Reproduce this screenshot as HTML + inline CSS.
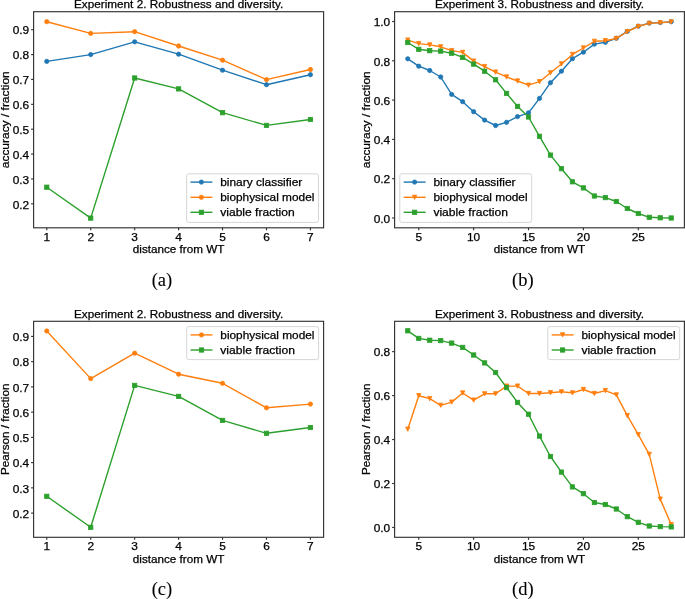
<!DOCTYPE html>
<html><head><meta charset="utf-8"><style>
html,body{margin:0;padding:0;background:#fff;}
body{width:685px;height:599px;overflow:hidden;}
svg{display:block;will-change:transform;}
text{font-family:"Liberation Sans", sans-serif;fill:#000;stroke:#000;stroke-width:0.25px;}
</style></head><body>
<svg width="685" height="599" viewBox="0 0 685 599">
<rect width="685" height="599" fill="#fff"/>
<polyline points="46.78,61.4 90.72,54.6 134.66,41.8 178.6,54.2 222.54,70.2 266.48,84.7 310.42,74.7" fill="none" stroke="#1f77b4" stroke-width="1.4" stroke-linejoin="round"/>
<circle cx="46.78" cy="61.4" r="2.15" fill="#1f77b4" stroke="#1f77b4" stroke-width="0.8" stroke-miterlimit="10"/>
<circle cx="90.72" cy="54.6" r="2.15" fill="#1f77b4" stroke="#1f77b4" stroke-width="0.8" stroke-miterlimit="10"/>
<circle cx="134.66" cy="41.8" r="2.15" fill="#1f77b4" stroke="#1f77b4" stroke-width="0.8" stroke-miterlimit="10"/>
<circle cx="178.6" cy="54.2" r="2.15" fill="#1f77b4" stroke="#1f77b4" stroke-width="0.8" stroke-miterlimit="10"/>
<circle cx="222.54" cy="70.2" r="2.15" fill="#1f77b4" stroke="#1f77b4" stroke-width="0.8" stroke-miterlimit="10"/>
<circle cx="266.48" cy="84.7" r="2.15" fill="#1f77b4" stroke="#1f77b4" stroke-width="0.8" stroke-miterlimit="10"/>
<circle cx="310.42" cy="74.7" r="2.15" fill="#1f77b4" stroke="#1f77b4" stroke-width="0.8" stroke-miterlimit="10"/>
<polyline points="46.78,21.7 90.72,33.4 134.66,31.7 178.6,46 222.54,60.2 266.48,79.6 310.42,69.5" fill="none" stroke="#ff7f0e" stroke-width="1.4" stroke-linejoin="round"/>
<circle cx="46.78" cy="21.7" r="2.15" fill="#ff7f0e" stroke="#ff7f0e" stroke-width="0.8" stroke-miterlimit="10"/>
<circle cx="90.72" cy="33.4" r="2.15" fill="#ff7f0e" stroke="#ff7f0e" stroke-width="0.8" stroke-miterlimit="10"/>
<circle cx="134.66" cy="31.7" r="2.15" fill="#ff7f0e" stroke="#ff7f0e" stroke-width="0.8" stroke-miterlimit="10"/>
<circle cx="178.6" cy="46" r="2.15" fill="#ff7f0e" stroke="#ff7f0e" stroke-width="0.8" stroke-miterlimit="10"/>
<circle cx="222.54" cy="60.2" r="2.15" fill="#ff7f0e" stroke="#ff7f0e" stroke-width="0.8" stroke-miterlimit="10"/>
<circle cx="266.48" cy="79.6" r="2.15" fill="#ff7f0e" stroke="#ff7f0e" stroke-width="0.8" stroke-miterlimit="10"/>
<circle cx="310.42" cy="69.5" r="2.15" fill="#ff7f0e" stroke="#ff7f0e" stroke-width="0.8" stroke-miterlimit="10"/>
<polyline points="46.78,187.2 90.72,218.1 134.66,78 178.6,88.9 222.54,112.7 266.48,125.4 310.42,119.5" fill="none" stroke="#2ca02c" stroke-width="1.4" stroke-linejoin="round"/>
<rect x="44.63" y="185.05" width="4.3" height="4.3" fill="#2ca02c" stroke="#2ca02c" stroke-width="0.8" stroke-miterlimit="10"/>
<rect x="88.57" y="215.95" width="4.3" height="4.3" fill="#2ca02c" stroke="#2ca02c" stroke-width="0.8" stroke-miterlimit="10"/>
<rect x="132.51" y="75.85" width="4.3" height="4.3" fill="#2ca02c" stroke="#2ca02c" stroke-width="0.8" stroke-miterlimit="10"/>
<rect x="176.45" y="86.75" width="4.3" height="4.3" fill="#2ca02c" stroke="#2ca02c" stroke-width="0.8" stroke-miterlimit="10"/>
<rect x="220.39" y="110.55" width="4.3" height="4.3" fill="#2ca02c" stroke="#2ca02c" stroke-width="0.8" stroke-miterlimit="10"/>
<rect x="264.33" y="123.25" width="4.3" height="4.3" fill="#2ca02c" stroke="#2ca02c" stroke-width="0.8" stroke-miterlimit="10"/>
<rect x="308.27" y="117.35" width="4.3" height="4.3" fill="#2ca02c" stroke="#2ca02c" stroke-width="0.8" stroke-miterlimit="10"/>
<rect x="33.6" y="11.7" width="290" height="216.1" fill="none" stroke="#333" stroke-width="1.15"/>
<line x1="46.78" y1="227.8" x2="46.78" y2="230.3" stroke="#333" stroke-width="1.15"/>
<text x="46.78" y="240.7" text-anchor="middle" textLength="6.62" lengthAdjust="spacingAndGlyphs" font-size="10.9">1</text>
<line x1="90.72" y1="227.8" x2="90.72" y2="230.3" stroke="#333" stroke-width="1.15"/>
<text x="90.72" y="240.7" text-anchor="middle" textLength="6.62" lengthAdjust="spacingAndGlyphs" font-size="10.9">2</text>
<line x1="134.66" y1="227.8" x2="134.66" y2="230.3" stroke="#333" stroke-width="1.15"/>
<text x="134.66" y="240.7" text-anchor="middle" textLength="6.62" lengthAdjust="spacingAndGlyphs" font-size="10.9">3</text>
<line x1="178.6" y1="227.8" x2="178.6" y2="230.3" stroke="#333" stroke-width="1.15"/>
<text x="178.6" y="240.7" text-anchor="middle" textLength="6.62" lengthAdjust="spacingAndGlyphs" font-size="10.9">4</text>
<line x1="222.54" y1="227.8" x2="222.54" y2="230.3" stroke="#333" stroke-width="1.15"/>
<text x="222.54" y="240.7" text-anchor="middle" textLength="6.62" lengthAdjust="spacingAndGlyphs" font-size="10.9">5</text>
<line x1="266.48" y1="227.8" x2="266.48" y2="230.3" stroke="#333" stroke-width="1.15"/>
<text x="266.48" y="240.7" text-anchor="middle" textLength="6.62" lengthAdjust="spacingAndGlyphs" font-size="10.9">6</text>
<line x1="310.42" y1="227.8" x2="310.42" y2="230.3" stroke="#333" stroke-width="1.15"/>
<text x="310.42" y="240.7" text-anchor="middle" textLength="6.62" lengthAdjust="spacingAndGlyphs" font-size="10.9">7</text>
<line x1="31.1" y1="203.8" x2="33.6" y2="203.8" stroke="#333" stroke-width="1.15"/>
<text x="29.2" y="208.5" text-anchor="end" textLength="16.54" lengthAdjust="spacingAndGlyphs" font-size="10.9">0.2</text>
<line x1="31.1" y1="178.94" x2="33.6" y2="178.94" stroke="#333" stroke-width="1.15"/>
<text x="29.2" y="183.64" text-anchor="end" textLength="16.54" lengthAdjust="spacingAndGlyphs" font-size="10.9">0.3</text>
<line x1="31.1" y1="154.07" x2="33.6" y2="154.07" stroke="#333" stroke-width="1.15"/>
<text x="29.2" y="158.77" text-anchor="end" textLength="16.54" lengthAdjust="spacingAndGlyphs" font-size="10.9">0.4</text>
<line x1="31.1" y1="129.2" x2="33.6" y2="129.2" stroke="#333" stroke-width="1.15"/>
<text x="29.2" y="133.9" text-anchor="end" textLength="16.54" lengthAdjust="spacingAndGlyphs" font-size="10.9">0.5</text>
<line x1="31.1" y1="104.33" x2="33.6" y2="104.33" stroke="#333" stroke-width="1.15"/>
<text x="29.2" y="109.03" text-anchor="end" textLength="16.54" lengthAdjust="spacingAndGlyphs" font-size="10.9">0.6</text>
<line x1="31.1" y1="79.46" x2="33.6" y2="79.46" stroke="#333" stroke-width="1.15"/>
<text x="29.2" y="84.16" text-anchor="end" textLength="16.54" lengthAdjust="spacingAndGlyphs" font-size="10.9">0.7</text>
<line x1="31.1" y1="54.6" x2="33.6" y2="54.6" stroke="#333" stroke-width="1.15"/>
<text x="29.2" y="59.3" text-anchor="end" textLength="16.54" lengthAdjust="spacingAndGlyphs" font-size="10.9">0.8</text>
<line x1="31.1" y1="29.73" x2="33.6" y2="29.73" stroke="#333" stroke-width="1.15"/>
<text x="29.2" y="34.43" text-anchor="end" textLength="16.54" lengthAdjust="spacingAndGlyphs" font-size="10.9">0.9</text>
<text x="178.6" y="7.9" text-anchor="middle" textLength="209.12" lengthAdjust="spacingAndGlyphs" font-size="10.9">Experiment 2. Robustness and diversity.</text>
<text x="178.6" y="253.1" text-anchor="middle" textLength="91.52" lengthAdjust="spacingAndGlyphs" font-size="10.9">distance from WT</text>
<text transform="translate(8.6 119.75) rotate(-90)" text-anchor="middle" font-size="10.9" textLength="96.99" lengthAdjust="spacingAndGlyphs">accuracy / fraction</text>
<rect x="186.6" y="173.8" width="131.9" height="48.6" rx="2" ry="2" fill="#fff" fill-opacity="0.8" stroke="#cccccc" stroke-width="0.8"/>
<line x1="190.5" y1="182.1" x2="212.4" y2="182.1" stroke="#1f77b4" stroke-width="1.4"/>
<circle cx="201.4" cy="182.1" r="2.15" fill="#1f77b4" stroke="#1f77b4" stroke-width="0.8" stroke-miterlimit="10"/>
<text x="220.2" y="185.8" textLength="82.12" lengthAdjust="spacingAndGlyphs" font-size="10.9">binary classifier</text>
<line x1="190.5" y1="197.3" x2="212.4" y2="197.3" stroke="#ff7f0e" stroke-width="1.4"/>
<circle cx="201.4" cy="197.3" r="2.15" fill="#ff7f0e" stroke="#ff7f0e" stroke-width="0.8" stroke-miterlimit="10"/>
<text x="220.2" y="201" textLength="94.18" lengthAdjust="spacingAndGlyphs" font-size="10.9">biophysical model</text>
<line x1="190.5" y1="212.3" x2="212.4" y2="212.3" stroke="#2ca02c" stroke-width="1.4"/>
<rect x="199.25" y="210.15" width="4.3" height="4.3" fill="#2ca02c" stroke="#2ca02c" stroke-width="0.8" stroke-miterlimit="10"/>
<text x="220.2" y="216" textLength="74.56" lengthAdjust="spacingAndGlyphs" font-size="10.9">viable fraction</text>
<text x="161.9" y="285.8" text-anchor="middle" font-size="18.5" style='font-family:Liberation Serif, serif;stroke-width:0.1px'>(a)</text>
<polyline points="407.77,58.8 418.75,66.2 429.73,70.5 440.7,77 451.68,94.4 462.66,101.7 473.64,111.7 484.61,120.1 495.59,125.5 506.57,122.3 517.55,116.6 528.52,112.8 539.5,98.4 550.48,82.7 561.45,71.2 572.43,58.7 583.41,52.2 594.39,44.1 605.36,42.3 616.34,38.3 627.32,31.4 638.3,26.2 649.27,23.1 660.25,22.6 671.23,21.7" fill="none" stroke="#1f77b4" stroke-width="1.4" stroke-linejoin="round"/>
<circle cx="407.77" cy="58.8" r="2.15" fill="#1f77b4" stroke="#1f77b4" stroke-width="0.8" stroke-miterlimit="10"/>
<circle cx="418.75" cy="66.2" r="2.15" fill="#1f77b4" stroke="#1f77b4" stroke-width="0.8" stroke-miterlimit="10"/>
<circle cx="429.73" cy="70.5" r="2.15" fill="#1f77b4" stroke="#1f77b4" stroke-width="0.8" stroke-miterlimit="10"/>
<circle cx="440.7" cy="77" r="2.15" fill="#1f77b4" stroke="#1f77b4" stroke-width="0.8" stroke-miterlimit="10"/>
<circle cx="451.68" cy="94.4" r="2.15" fill="#1f77b4" stroke="#1f77b4" stroke-width="0.8" stroke-miterlimit="10"/>
<circle cx="462.66" cy="101.7" r="2.15" fill="#1f77b4" stroke="#1f77b4" stroke-width="0.8" stroke-miterlimit="10"/>
<circle cx="473.64" cy="111.7" r="2.15" fill="#1f77b4" stroke="#1f77b4" stroke-width="0.8" stroke-miterlimit="10"/>
<circle cx="484.61" cy="120.1" r="2.15" fill="#1f77b4" stroke="#1f77b4" stroke-width="0.8" stroke-miterlimit="10"/>
<circle cx="495.59" cy="125.5" r="2.15" fill="#1f77b4" stroke="#1f77b4" stroke-width="0.8" stroke-miterlimit="10"/>
<circle cx="506.57" cy="122.3" r="2.15" fill="#1f77b4" stroke="#1f77b4" stroke-width="0.8" stroke-miterlimit="10"/>
<circle cx="517.55" cy="116.6" r="2.15" fill="#1f77b4" stroke="#1f77b4" stroke-width="0.8" stroke-miterlimit="10"/>
<circle cx="528.52" cy="112.8" r="2.15" fill="#1f77b4" stroke="#1f77b4" stroke-width="0.8" stroke-miterlimit="10"/>
<circle cx="539.5" cy="98.4" r="2.15" fill="#1f77b4" stroke="#1f77b4" stroke-width="0.8" stroke-miterlimit="10"/>
<circle cx="550.48" cy="82.7" r="2.15" fill="#1f77b4" stroke="#1f77b4" stroke-width="0.8" stroke-miterlimit="10"/>
<circle cx="561.45" cy="71.2" r="2.15" fill="#1f77b4" stroke="#1f77b4" stroke-width="0.8" stroke-miterlimit="10"/>
<circle cx="572.43" cy="58.7" r="2.15" fill="#1f77b4" stroke="#1f77b4" stroke-width="0.8" stroke-miterlimit="10"/>
<circle cx="583.41" cy="52.2" r="2.15" fill="#1f77b4" stroke="#1f77b4" stroke-width="0.8" stroke-miterlimit="10"/>
<circle cx="594.39" cy="44.1" r="2.15" fill="#1f77b4" stroke="#1f77b4" stroke-width="0.8" stroke-miterlimit="10"/>
<circle cx="605.36" cy="42.3" r="2.15" fill="#1f77b4" stroke="#1f77b4" stroke-width="0.8" stroke-miterlimit="10"/>
<circle cx="616.34" cy="38.3" r="2.15" fill="#1f77b4" stroke="#1f77b4" stroke-width="0.8" stroke-miterlimit="10"/>
<circle cx="627.32" cy="31.4" r="2.15" fill="#1f77b4" stroke="#1f77b4" stroke-width="0.8" stroke-miterlimit="10"/>
<circle cx="638.3" cy="26.2" r="2.15" fill="#1f77b4" stroke="#1f77b4" stroke-width="0.8" stroke-miterlimit="10"/>
<circle cx="649.27" cy="23.1" r="2.15" fill="#1f77b4" stroke="#1f77b4" stroke-width="0.8" stroke-miterlimit="10"/>
<circle cx="660.25" cy="22.6" r="2.15" fill="#1f77b4" stroke="#1f77b4" stroke-width="0.8" stroke-miterlimit="10"/>
<circle cx="671.23" cy="21.7" r="2.15" fill="#1f77b4" stroke="#1f77b4" stroke-width="0.8" stroke-miterlimit="10"/>
<polyline points="407.77,40.1 418.75,43.6 429.73,44.9 440.7,46.8 451.68,50.6 462.66,52.4 473.64,61.1 484.61,66.6 495.59,72.1 506.57,76.95 517.55,81 528.52,85.2 539.5,81.7 550.48,72.8 561.45,63.95 572.43,54.45 583.41,48 594.39,41.3 605.36,40.7 616.34,38.5 627.32,31.6 638.3,26.5 649.27,23.4 660.25,22.8 671.23,21.9" fill="none" stroke="#ff7f0e" stroke-width="1.4" stroke-linejoin="round"/>
<path d="M405.62 37.95L409.92 37.95L407.77 42.25Z" fill="#ff7f0e" stroke="#ff7f0e" stroke-width="0.8" stroke-miterlimit="10"/>
<path d="M416.6 41.45L420.9 41.45L418.75 45.75Z" fill="#ff7f0e" stroke="#ff7f0e" stroke-width="0.8" stroke-miterlimit="10"/>
<path d="M427.58 42.75L431.88 42.75L429.73 47.05Z" fill="#ff7f0e" stroke="#ff7f0e" stroke-width="0.8" stroke-miterlimit="10"/>
<path d="M438.55 44.65L442.85 44.65L440.7 48.95Z" fill="#ff7f0e" stroke="#ff7f0e" stroke-width="0.8" stroke-miterlimit="10"/>
<path d="M449.53 48.45L453.83 48.45L451.68 52.75Z" fill="#ff7f0e" stroke="#ff7f0e" stroke-width="0.8" stroke-miterlimit="10"/>
<path d="M460.51 50.25L464.81 50.25L462.66 54.55Z" fill="#ff7f0e" stroke="#ff7f0e" stroke-width="0.8" stroke-miterlimit="10"/>
<path d="M471.49 58.95L475.79 58.95L473.64 63.25Z" fill="#ff7f0e" stroke="#ff7f0e" stroke-width="0.8" stroke-miterlimit="10"/>
<path d="M482.46 64.45L486.76 64.45L484.61 68.75Z" fill="#ff7f0e" stroke="#ff7f0e" stroke-width="0.8" stroke-miterlimit="10"/>
<path d="M493.44 69.95L497.74 69.95L495.59 74.25Z" fill="#ff7f0e" stroke="#ff7f0e" stroke-width="0.8" stroke-miterlimit="10"/>
<path d="M504.42 74.8L508.72 74.8L506.57 79.1Z" fill="#ff7f0e" stroke="#ff7f0e" stroke-width="0.8" stroke-miterlimit="10"/>
<path d="M515.4 78.85L519.7 78.85L517.55 83.15Z" fill="#ff7f0e" stroke="#ff7f0e" stroke-width="0.8" stroke-miterlimit="10"/>
<path d="M526.37 83.05L530.67 83.05L528.52 87.35Z" fill="#ff7f0e" stroke="#ff7f0e" stroke-width="0.8" stroke-miterlimit="10"/>
<path d="M537.35 79.55L541.65 79.55L539.5 83.85Z" fill="#ff7f0e" stroke="#ff7f0e" stroke-width="0.8" stroke-miterlimit="10"/>
<path d="M548.33 70.65L552.63 70.65L550.48 74.95Z" fill="#ff7f0e" stroke="#ff7f0e" stroke-width="0.8" stroke-miterlimit="10"/>
<path d="M559.3 61.8L563.6 61.8L561.45 66.1Z" fill="#ff7f0e" stroke="#ff7f0e" stroke-width="0.8" stroke-miterlimit="10"/>
<path d="M570.28 52.3L574.58 52.3L572.43 56.6Z" fill="#ff7f0e" stroke="#ff7f0e" stroke-width="0.8" stroke-miterlimit="10"/>
<path d="M581.26 45.85L585.56 45.85L583.41 50.15Z" fill="#ff7f0e" stroke="#ff7f0e" stroke-width="0.8" stroke-miterlimit="10"/>
<path d="M592.24 39.15L596.54 39.15L594.39 43.45Z" fill="#ff7f0e" stroke="#ff7f0e" stroke-width="0.8" stroke-miterlimit="10"/>
<path d="M603.21 38.55L607.51 38.55L605.36 42.85Z" fill="#ff7f0e" stroke="#ff7f0e" stroke-width="0.8" stroke-miterlimit="10"/>
<path d="M614.19 36.35L618.49 36.35L616.34 40.65Z" fill="#ff7f0e" stroke="#ff7f0e" stroke-width="0.8" stroke-miterlimit="10"/>
<path d="M625.17 29.45L629.47 29.45L627.32 33.75Z" fill="#ff7f0e" stroke="#ff7f0e" stroke-width="0.8" stroke-miterlimit="10"/>
<path d="M636.15 24.35L640.45 24.35L638.3 28.65Z" fill="#ff7f0e" stroke="#ff7f0e" stroke-width="0.8" stroke-miterlimit="10"/>
<path d="M647.12 21.25L651.42 21.25L649.27 25.55Z" fill="#ff7f0e" stroke="#ff7f0e" stroke-width="0.8" stroke-miterlimit="10"/>
<path d="M658.1 20.65L662.4 20.65L660.25 24.95Z" fill="#ff7f0e" stroke="#ff7f0e" stroke-width="0.8" stroke-miterlimit="10"/>
<path d="M669.08 19.75L673.38 19.75L671.23 24.05Z" fill="#ff7f0e" stroke="#ff7f0e" stroke-width="0.8" stroke-miterlimit="10"/>
<polyline points="407.77,42.5 418.75,49.3 429.73,50.7 440.7,51.1 451.68,53.2 462.66,57.4 473.64,64.1 484.61,71.2 495.59,79.8 506.57,93.4 517.55,106.4 528.52,117 539.5,136.3 550.48,155.1 561.45,168.7 572.43,181.8 583.41,187.9 594.39,196 605.36,197.6 616.34,201.5 627.32,208.5 638.3,213.5 649.27,217.3 660.25,217.8 671.23,218" fill="none" stroke="#2ca02c" stroke-width="1.4" stroke-linejoin="round"/>
<rect x="405.62" y="40.35" width="4.3" height="4.3" fill="#2ca02c" stroke="#2ca02c" stroke-width="0.8" stroke-miterlimit="10"/>
<rect x="416.6" y="47.15" width="4.3" height="4.3" fill="#2ca02c" stroke="#2ca02c" stroke-width="0.8" stroke-miterlimit="10"/>
<rect x="427.58" y="48.55" width="4.3" height="4.3" fill="#2ca02c" stroke="#2ca02c" stroke-width="0.8" stroke-miterlimit="10"/>
<rect x="438.55" y="48.95" width="4.3" height="4.3" fill="#2ca02c" stroke="#2ca02c" stroke-width="0.8" stroke-miterlimit="10"/>
<rect x="449.53" y="51.05" width="4.3" height="4.3" fill="#2ca02c" stroke="#2ca02c" stroke-width="0.8" stroke-miterlimit="10"/>
<rect x="460.51" y="55.25" width="4.3" height="4.3" fill="#2ca02c" stroke="#2ca02c" stroke-width="0.8" stroke-miterlimit="10"/>
<rect x="471.49" y="61.95" width="4.3" height="4.3" fill="#2ca02c" stroke="#2ca02c" stroke-width="0.8" stroke-miterlimit="10"/>
<rect x="482.46" y="69.05" width="4.3" height="4.3" fill="#2ca02c" stroke="#2ca02c" stroke-width="0.8" stroke-miterlimit="10"/>
<rect x="493.44" y="77.65" width="4.3" height="4.3" fill="#2ca02c" stroke="#2ca02c" stroke-width="0.8" stroke-miterlimit="10"/>
<rect x="504.42" y="91.25" width="4.3" height="4.3" fill="#2ca02c" stroke="#2ca02c" stroke-width="0.8" stroke-miterlimit="10"/>
<rect x="515.4" y="104.25" width="4.3" height="4.3" fill="#2ca02c" stroke="#2ca02c" stroke-width="0.8" stroke-miterlimit="10"/>
<rect x="526.37" y="114.85" width="4.3" height="4.3" fill="#2ca02c" stroke="#2ca02c" stroke-width="0.8" stroke-miterlimit="10"/>
<rect x="537.35" y="134.15" width="4.3" height="4.3" fill="#2ca02c" stroke="#2ca02c" stroke-width="0.8" stroke-miterlimit="10"/>
<rect x="548.33" y="152.95" width="4.3" height="4.3" fill="#2ca02c" stroke="#2ca02c" stroke-width="0.8" stroke-miterlimit="10"/>
<rect x="559.3" y="166.55" width="4.3" height="4.3" fill="#2ca02c" stroke="#2ca02c" stroke-width="0.8" stroke-miterlimit="10"/>
<rect x="570.28" y="179.65" width="4.3" height="4.3" fill="#2ca02c" stroke="#2ca02c" stroke-width="0.8" stroke-miterlimit="10"/>
<rect x="581.26" y="185.75" width="4.3" height="4.3" fill="#2ca02c" stroke="#2ca02c" stroke-width="0.8" stroke-miterlimit="10"/>
<rect x="592.24" y="193.85" width="4.3" height="4.3" fill="#2ca02c" stroke="#2ca02c" stroke-width="0.8" stroke-miterlimit="10"/>
<rect x="603.21" y="195.45" width="4.3" height="4.3" fill="#2ca02c" stroke="#2ca02c" stroke-width="0.8" stroke-miterlimit="10"/>
<rect x="614.19" y="199.35" width="4.3" height="4.3" fill="#2ca02c" stroke="#2ca02c" stroke-width="0.8" stroke-miterlimit="10"/>
<rect x="625.17" y="206.35" width="4.3" height="4.3" fill="#2ca02c" stroke="#2ca02c" stroke-width="0.8" stroke-miterlimit="10"/>
<rect x="636.15" y="211.35" width="4.3" height="4.3" fill="#2ca02c" stroke="#2ca02c" stroke-width="0.8" stroke-miterlimit="10"/>
<rect x="647.12" y="215.15" width="4.3" height="4.3" fill="#2ca02c" stroke="#2ca02c" stroke-width="0.8" stroke-miterlimit="10"/>
<rect x="658.1" y="215.65" width="4.3" height="4.3" fill="#2ca02c" stroke="#2ca02c" stroke-width="0.8" stroke-miterlimit="10"/>
<rect x="669.08" y="215.85" width="4.3" height="4.3" fill="#2ca02c" stroke="#2ca02c" stroke-width="0.8" stroke-miterlimit="10"/>
<rect x="394.6" y="11.7" width="289.8" height="216.1" fill="none" stroke="#333" stroke-width="1.15"/>
<line x1="418.75" y1="227.8" x2="418.75" y2="230.3" stroke="#333" stroke-width="1.15"/>
<text x="418.75" y="240.7" text-anchor="middle" textLength="6.62" lengthAdjust="spacingAndGlyphs" font-size="10.9">5</text>
<line x1="473.64" y1="227.8" x2="473.64" y2="230.3" stroke="#333" stroke-width="1.15"/>
<text x="473.64" y="240.7" text-anchor="middle" textLength="13.23" lengthAdjust="spacingAndGlyphs" font-size="10.9">10</text>
<line x1="528.52" y1="227.8" x2="528.52" y2="230.3" stroke="#333" stroke-width="1.15"/>
<text x="528.52" y="240.7" text-anchor="middle" textLength="13.23" lengthAdjust="spacingAndGlyphs" font-size="10.9">15</text>
<line x1="583.41" y1="227.8" x2="583.41" y2="230.3" stroke="#333" stroke-width="1.15"/>
<text x="583.41" y="240.7" text-anchor="middle" textLength="13.23" lengthAdjust="spacingAndGlyphs" font-size="10.9">20</text>
<line x1="638.3" y1="227.8" x2="638.3" y2="230.3" stroke="#333" stroke-width="1.15"/>
<text x="638.3" y="240.7" text-anchor="middle" textLength="13.23" lengthAdjust="spacingAndGlyphs" font-size="10.9">25</text>
<line x1="392.1" y1="217.98" x2="394.6" y2="217.98" stroke="#333" stroke-width="1.15"/>
<text x="390.2" y="222.68" text-anchor="end" textLength="16.54" lengthAdjust="spacingAndGlyphs" font-size="10.9">0.0</text>
<line x1="392.1" y1="178.69" x2="394.6" y2="178.69" stroke="#333" stroke-width="1.15"/>
<text x="390.2" y="183.39" text-anchor="end" textLength="16.54" lengthAdjust="spacingAndGlyphs" font-size="10.9">0.2</text>
<line x1="392.1" y1="139.4" x2="394.6" y2="139.4" stroke="#333" stroke-width="1.15"/>
<text x="390.2" y="144.1" text-anchor="end" textLength="16.54" lengthAdjust="spacingAndGlyphs" font-size="10.9">0.4</text>
<line x1="392.1" y1="100.1" x2="394.6" y2="100.1" stroke="#333" stroke-width="1.15"/>
<text x="390.2" y="104.8" text-anchor="end" textLength="16.54" lengthAdjust="spacingAndGlyphs" font-size="10.9">0.6</text>
<line x1="392.1" y1="60.81" x2="394.6" y2="60.81" stroke="#333" stroke-width="1.15"/>
<text x="390.2" y="65.51" text-anchor="end" textLength="16.54" lengthAdjust="spacingAndGlyphs" font-size="10.9">0.8</text>
<line x1="392.1" y1="21.52" x2="394.6" y2="21.52" stroke="#333" stroke-width="1.15"/>
<text x="390.2" y="26.22" text-anchor="end" textLength="16.54" lengthAdjust="spacingAndGlyphs" font-size="10.9">1.0</text>
<text x="539.5" y="7.9" text-anchor="middle" textLength="209.12" lengthAdjust="spacingAndGlyphs" font-size="10.9">Experiment 3. Robustness and diversity.</text>
<text x="539.5" y="253.1" text-anchor="middle" textLength="91.52" lengthAdjust="spacingAndGlyphs" font-size="10.9">distance from WT</text>
<text transform="translate(369.6 119.75) rotate(-90)" text-anchor="middle" font-size="10.9" textLength="96.99" lengthAdjust="spacingAndGlyphs">accuracy / fraction</text>
<rect x="399.8" y="173.8" width="131.9" height="48.6" rx="2" ry="2" fill="#fff" fill-opacity="0.8" stroke="#cccccc" stroke-width="0.8"/>
<line x1="403.7" y1="182.1" x2="425.6" y2="182.1" stroke="#1f77b4" stroke-width="1.4"/>
<circle cx="414.6" cy="182.1" r="2.15" fill="#1f77b4" stroke="#1f77b4" stroke-width="0.8" stroke-miterlimit="10"/>
<text x="433.4" y="185.8" textLength="82.12" lengthAdjust="spacingAndGlyphs" font-size="10.9">binary classifier</text>
<line x1="403.7" y1="197.3" x2="425.6" y2="197.3" stroke="#ff7f0e" stroke-width="1.4"/>
<path d="M412.45 195.15L416.75 195.15L414.6 199.45Z" fill="#ff7f0e" stroke="#ff7f0e" stroke-width="0.8" stroke-miterlimit="10"/>
<text x="433.4" y="201" textLength="94.18" lengthAdjust="spacingAndGlyphs" font-size="10.9">biophysical model</text>
<line x1="403.7" y1="212.3" x2="425.6" y2="212.3" stroke="#2ca02c" stroke-width="1.4"/>
<rect x="412.45" y="210.15" width="4.3" height="4.3" fill="#2ca02c" stroke="#2ca02c" stroke-width="0.8" stroke-miterlimit="10"/>
<text x="433.4" y="216" textLength="74.56" lengthAdjust="spacingAndGlyphs" font-size="10.9">viable fraction</text>
<text x="522.8" y="285.8" text-anchor="middle" font-size="18.5" style='font-family:Liberation Serif, serif;stroke-width:0.1px'>(b)</text>
<polyline points="46.78,331 90.72,378.6 134.66,353.2 178.6,374.2 222.54,383.3 266.48,407.8 310.42,404.1" fill="none" stroke="#ff7f0e" stroke-width="1.4" stroke-linejoin="round"/>
<circle cx="46.78" cy="331" r="2.15" fill="#ff7f0e" stroke="#ff7f0e" stroke-width="0.8" stroke-miterlimit="10"/>
<circle cx="90.72" cy="378.6" r="2.15" fill="#ff7f0e" stroke="#ff7f0e" stroke-width="0.8" stroke-miterlimit="10"/>
<circle cx="134.66" cy="353.2" r="2.15" fill="#ff7f0e" stroke="#ff7f0e" stroke-width="0.8" stroke-miterlimit="10"/>
<circle cx="178.6" cy="374.2" r="2.15" fill="#ff7f0e" stroke="#ff7f0e" stroke-width="0.8" stroke-miterlimit="10"/>
<circle cx="222.54" cy="383.3" r="2.15" fill="#ff7f0e" stroke="#ff7f0e" stroke-width="0.8" stroke-miterlimit="10"/>
<circle cx="266.48" cy="407.8" r="2.15" fill="#ff7f0e" stroke="#ff7f0e" stroke-width="0.8" stroke-miterlimit="10"/>
<circle cx="310.42" cy="404.1" r="2.15" fill="#ff7f0e" stroke="#ff7f0e" stroke-width="0.8" stroke-miterlimit="10"/>
<polyline points="46.78,496.3 90.72,527.3 134.66,385.4 178.6,396.4 222.54,420.4 266.48,433.3 310.42,427.5" fill="none" stroke="#2ca02c" stroke-width="1.4" stroke-linejoin="round"/>
<rect x="44.63" y="494.15" width="4.3" height="4.3" fill="#2ca02c" stroke="#2ca02c" stroke-width="0.8" stroke-miterlimit="10"/>
<rect x="88.57" y="525.15" width="4.3" height="4.3" fill="#2ca02c" stroke="#2ca02c" stroke-width="0.8" stroke-miterlimit="10"/>
<rect x="132.51" y="383.25" width="4.3" height="4.3" fill="#2ca02c" stroke="#2ca02c" stroke-width="0.8" stroke-miterlimit="10"/>
<rect x="176.45" y="394.25" width="4.3" height="4.3" fill="#2ca02c" stroke="#2ca02c" stroke-width="0.8" stroke-miterlimit="10"/>
<rect x="220.39" y="418.25" width="4.3" height="4.3" fill="#2ca02c" stroke="#2ca02c" stroke-width="0.8" stroke-miterlimit="10"/>
<rect x="264.33" y="431.15" width="4.3" height="4.3" fill="#2ca02c" stroke="#2ca02c" stroke-width="0.8" stroke-miterlimit="10"/>
<rect x="308.27" y="425.35" width="4.3" height="4.3" fill="#2ca02c" stroke="#2ca02c" stroke-width="0.8" stroke-miterlimit="10"/>
<rect x="33.6" y="321.3" width="290" height="216" fill="none" stroke="#333" stroke-width="1.15"/>
<line x1="46.78" y1="537.3" x2="46.78" y2="539.8" stroke="#333" stroke-width="1.15"/>
<text x="46.78" y="550.2" text-anchor="middle" textLength="6.62" lengthAdjust="spacingAndGlyphs" font-size="10.9">1</text>
<line x1="90.72" y1="537.3" x2="90.72" y2="539.8" stroke="#333" stroke-width="1.15"/>
<text x="90.72" y="550.2" text-anchor="middle" textLength="6.62" lengthAdjust="spacingAndGlyphs" font-size="10.9">2</text>
<line x1="134.66" y1="537.3" x2="134.66" y2="539.8" stroke="#333" stroke-width="1.15"/>
<text x="134.66" y="550.2" text-anchor="middle" textLength="6.62" lengthAdjust="spacingAndGlyphs" font-size="10.9">3</text>
<line x1="178.6" y1="537.3" x2="178.6" y2="539.8" stroke="#333" stroke-width="1.15"/>
<text x="178.6" y="550.2" text-anchor="middle" textLength="6.62" lengthAdjust="spacingAndGlyphs" font-size="10.9">4</text>
<line x1="222.54" y1="537.3" x2="222.54" y2="539.8" stroke="#333" stroke-width="1.15"/>
<text x="222.54" y="550.2" text-anchor="middle" textLength="6.62" lengthAdjust="spacingAndGlyphs" font-size="10.9">5</text>
<line x1="266.48" y1="537.3" x2="266.48" y2="539.8" stroke="#333" stroke-width="1.15"/>
<text x="266.48" y="550.2" text-anchor="middle" textLength="6.62" lengthAdjust="spacingAndGlyphs" font-size="10.9">6</text>
<line x1="310.42" y1="537.3" x2="310.42" y2="539.8" stroke="#333" stroke-width="1.15"/>
<text x="310.42" y="550.2" text-anchor="middle" textLength="6.62" lengthAdjust="spacingAndGlyphs" font-size="10.9">7</text>
<line x1="31.1" y1="513.1" x2="33.6" y2="513.1" stroke="#333" stroke-width="1.15"/>
<text x="29.2" y="517.8" text-anchor="end" textLength="16.54" lengthAdjust="spacingAndGlyphs" font-size="10.9">0.2</text>
<line x1="31.1" y1="487.86" x2="33.6" y2="487.86" stroke="#333" stroke-width="1.15"/>
<text x="29.2" y="492.56" text-anchor="end" textLength="16.54" lengthAdjust="spacingAndGlyphs" font-size="10.9">0.3</text>
<line x1="31.1" y1="462.62" x2="33.6" y2="462.62" stroke="#333" stroke-width="1.15"/>
<text x="29.2" y="467.32" text-anchor="end" textLength="16.54" lengthAdjust="spacingAndGlyphs" font-size="10.9">0.4</text>
<line x1="31.1" y1="437.38" x2="33.6" y2="437.38" stroke="#333" stroke-width="1.15"/>
<text x="29.2" y="442.08" text-anchor="end" textLength="16.54" lengthAdjust="spacingAndGlyphs" font-size="10.9">0.5</text>
<line x1="31.1" y1="412.14" x2="33.6" y2="412.14" stroke="#333" stroke-width="1.15"/>
<text x="29.2" y="416.84" text-anchor="end" textLength="16.54" lengthAdjust="spacingAndGlyphs" font-size="10.9">0.6</text>
<line x1="31.1" y1="386.9" x2="33.6" y2="386.9" stroke="#333" stroke-width="1.15"/>
<text x="29.2" y="391.6" text-anchor="end" textLength="16.54" lengthAdjust="spacingAndGlyphs" font-size="10.9">0.7</text>
<line x1="31.1" y1="361.66" x2="33.6" y2="361.66" stroke="#333" stroke-width="1.15"/>
<text x="29.2" y="366.36" text-anchor="end" textLength="16.54" lengthAdjust="spacingAndGlyphs" font-size="10.9">0.8</text>
<line x1="31.1" y1="336.42" x2="33.6" y2="336.42" stroke="#333" stroke-width="1.15"/>
<text x="29.2" y="341.12" text-anchor="end" textLength="16.54" lengthAdjust="spacingAndGlyphs" font-size="10.9">0.9</text>
<text x="178.6" y="317.5" text-anchor="middle" textLength="209.12" lengthAdjust="spacingAndGlyphs" font-size="10.9">Experiment 2. Robustness and diversity.</text>
<text x="178.6" y="562.6" text-anchor="middle" textLength="91.52" lengthAdjust="spacingAndGlyphs" font-size="10.9">distance from WT</text>
<text transform="translate(8.6 429.3) rotate(-90)" text-anchor="middle" font-size="10.9" textLength="91.39" lengthAdjust="spacingAndGlyphs">Pearson / fraction</text>
<rect x="186.7" y="326.6" width="131.9" height="33" rx="2" ry="2" fill="#fff" fill-opacity="0.8" stroke="#cccccc" stroke-width="0.8"/>
<line x1="190.6" y1="334.9" x2="212.5" y2="334.9" stroke="#ff7f0e" stroke-width="1.4"/>
<circle cx="201.5" cy="334.9" r="2.15" fill="#ff7f0e" stroke="#ff7f0e" stroke-width="0.8" stroke-miterlimit="10"/>
<text x="220.3" y="338.6" textLength="94.18" lengthAdjust="spacingAndGlyphs" font-size="10.9">biophysical model</text>
<line x1="190.6" y1="350" x2="212.5" y2="350" stroke="#2ca02c" stroke-width="1.4"/>
<rect x="199.35" y="347.85" width="4.3" height="4.3" fill="#2ca02c" stroke="#2ca02c" stroke-width="0.8" stroke-miterlimit="10"/>
<text x="220.3" y="353.7" textLength="74.56" lengthAdjust="spacingAndGlyphs" font-size="10.9">viable fraction</text>
<text x="161.9" y="595.3" text-anchor="middle" font-size="18.5" style='font-family:Liberation Serif, serif;stroke-width:0.1px'>(c)</text>
<polyline points="407.77,429.2 418.75,395.7 429.73,398.6 440.7,405.3 451.68,402.1 462.66,393 473.64,400.1 484.61,393.8 495.59,393.8 506.57,386.1 517.55,386.1 528.52,393.5 539.5,393.5 550.48,392.7 561.45,391.8 572.43,392.9 583.41,389.5 594.39,393.5 605.36,390.6 616.34,394.9 627.32,415.6 638.3,434.7 649.27,454.3 660.25,499.1 671.23,524.6" fill="none" stroke="#ff7f0e" stroke-width="1.4" stroke-linejoin="round"/>
<path d="M405.62 427.05L409.92 427.05L407.77 431.35Z" fill="#ff7f0e" stroke="#ff7f0e" stroke-width="0.8" stroke-miterlimit="10"/>
<path d="M416.6 393.55L420.9 393.55L418.75 397.85Z" fill="#ff7f0e" stroke="#ff7f0e" stroke-width="0.8" stroke-miterlimit="10"/>
<path d="M427.58 396.45L431.88 396.45L429.73 400.75Z" fill="#ff7f0e" stroke="#ff7f0e" stroke-width="0.8" stroke-miterlimit="10"/>
<path d="M438.55 403.15L442.85 403.15L440.7 407.45Z" fill="#ff7f0e" stroke="#ff7f0e" stroke-width="0.8" stroke-miterlimit="10"/>
<path d="M449.53 399.95L453.83 399.95L451.68 404.25Z" fill="#ff7f0e" stroke="#ff7f0e" stroke-width="0.8" stroke-miterlimit="10"/>
<path d="M460.51 390.85L464.81 390.85L462.66 395.15Z" fill="#ff7f0e" stroke="#ff7f0e" stroke-width="0.8" stroke-miterlimit="10"/>
<path d="M471.49 397.95L475.79 397.95L473.64 402.25Z" fill="#ff7f0e" stroke="#ff7f0e" stroke-width="0.8" stroke-miterlimit="10"/>
<path d="M482.46 391.65L486.76 391.65L484.61 395.95Z" fill="#ff7f0e" stroke="#ff7f0e" stroke-width="0.8" stroke-miterlimit="10"/>
<path d="M493.44 391.65L497.74 391.65L495.59 395.95Z" fill="#ff7f0e" stroke="#ff7f0e" stroke-width="0.8" stroke-miterlimit="10"/>
<path d="M504.42 383.95L508.72 383.95L506.57 388.25Z" fill="#ff7f0e" stroke="#ff7f0e" stroke-width="0.8" stroke-miterlimit="10"/>
<path d="M515.4 383.95L519.7 383.95L517.55 388.25Z" fill="#ff7f0e" stroke="#ff7f0e" stroke-width="0.8" stroke-miterlimit="10"/>
<path d="M526.37 391.35L530.67 391.35L528.52 395.65Z" fill="#ff7f0e" stroke="#ff7f0e" stroke-width="0.8" stroke-miterlimit="10"/>
<path d="M537.35 391.35L541.65 391.35L539.5 395.65Z" fill="#ff7f0e" stroke="#ff7f0e" stroke-width="0.8" stroke-miterlimit="10"/>
<path d="M548.33 390.55L552.63 390.55L550.48 394.85Z" fill="#ff7f0e" stroke="#ff7f0e" stroke-width="0.8" stroke-miterlimit="10"/>
<path d="M559.3 389.65L563.6 389.65L561.45 393.95Z" fill="#ff7f0e" stroke="#ff7f0e" stroke-width="0.8" stroke-miterlimit="10"/>
<path d="M570.28 390.75L574.58 390.75L572.43 395.05Z" fill="#ff7f0e" stroke="#ff7f0e" stroke-width="0.8" stroke-miterlimit="10"/>
<path d="M581.26 387.35L585.56 387.35L583.41 391.65Z" fill="#ff7f0e" stroke="#ff7f0e" stroke-width="0.8" stroke-miterlimit="10"/>
<path d="M592.24 391.35L596.54 391.35L594.39 395.65Z" fill="#ff7f0e" stroke="#ff7f0e" stroke-width="0.8" stroke-miterlimit="10"/>
<path d="M603.21 388.45L607.51 388.45L605.36 392.75Z" fill="#ff7f0e" stroke="#ff7f0e" stroke-width="0.8" stroke-miterlimit="10"/>
<path d="M614.19 392.75L618.49 392.75L616.34 397.05Z" fill="#ff7f0e" stroke="#ff7f0e" stroke-width="0.8" stroke-miterlimit="10"/>
<path d="M625.17 413.45L629.47 413.45L627.32 417.75Z" fill="#ff7f0e" stroke="#ff7f0e" stroke-width="0.8" stroke-miterlimit="10"/>
<path d="M636.15 432.55L640.45 432.55L638.3 436.85Z" fill="#ff7f0e" stroke="#ff7f0e" stroke-width="0.8" stroke-miterlimit="10"/>
<path d="M647.12 452.15L651.42 452.15L649.27 456.45Z" fill="#ff7f0e" stroke="#ff7f0e" stroke-width="0.8" stroke-miterlimit="10"/>
<path d="M658.1 496.95L662.4 496.95L660.25 501.25Z" fill="#ff7f0e" stroke="#ff7f0e" stroke-width="0.8" stroke-miterlimit="10"/>
<path d="M669.08 522.45L673.38 522.45L671.23 526.75Z" fill="#ff7f0e" stroke="#ff7f0e" stroke-width="0.8" stroke-miterlimit="10"/>
<polyline points="407.77,330.8 418.75,338.4 429.73,340.2 440.7,340.6 451.68,343.1 462.66,347.4 473.64,355 484.61,362.9 495.59,372.5 506.57,387.6 517.55,402.4 528.52,414.2 539.5,436.1 550.48,456.5 561.45,472.1 572.43,486.9 583.41,493.7 594.39,502.5 605.36,504.5 616.34,509 627.32,516.7 638.3,522.3 649.27,526 660.25,526.6 671.23,526.9" fill="none" stroke="#2ca02c" stroke-width="1.4" stroke-linejoin="round"/>
<rect x="405.62" y="328.65" width="4.3" height="4.3" fill="#2ca02c" stroke="#2ca02c" stroke-width="0.8" stroke-miterlimit="10"/>
<rect x="416.6" y="336.25" width="4.3" height="4.3" fill="#2ca02c" stroke="#2ca02c" stroke-width="0.8" stroke-miterlimit="10"/>
<rect x="427.58" y="338.05" width="4.3" height="4.3" fill="#2ca02c" stroke="#2ca02c" stroke-width="0.8" stroke-miterlimit="10"/>
<rect x="438.55" y="338.45" width="4.3" height="4.3" fill="#2ca02c" stroke="#2ca02c" stroke-width="0.8" stroke-miterlimit="10"/>
<rect x="449.53" y="340.95" width="4.3" height="4.3" fill="#2ca02c" stroke="#2ca02c" stroke-width="0.8" stroke-miterlimit="10"/>
<rect x="460.51" y="345.25" width="4.3" height="4.3" fill="#2ca02c" stroke="#2ca02c" stroke-width="0.8" stroke-miterlimit="10"/>
<rect x="471.49" y="352.85" width="4.3" height="4.3" fill="#2ca02c" stroke="#2ca02c" stroke-width="0.8" stroke-miterlimit="10"/>
<rect x="482.46" y="360.75" width="4.3" height="4.3" fill="#2ca02c" stroke="#2ca02c" stroke-width="0.8" stroke-miterlimit="10"/>
<rect x="493.44" y="370.35" width="4.3" height="4.3" fill="#2ca02c" stroke="#2ca02c" stroke-width="0.8" stroke-miterlimit="10"/>
<rect x="504.42" y="385.45" width="4.3" height="4.3" fill="#2ca02c" stroke="#2ca02c" stroke-width="0.8" stroke-miterlimit="10"/>
<rect x="515.4" y="400.25" width="4.3" height="4.3" fill="#2ca02c" stroke="#2ca02c" stroke-width="0.8" stroke-miterlimit="10"/>
<rect x="526.37" y="412.05" width="4.3" height="4.3" fill="#2ca02c" stroke="#2ca02c" stroke-width="0.8" stroke-miterlimit="10"/>
<rect x="537.35" y="433.95" width="4.3" height="4.3" fill="#2ca02c" stroke="#2ca02c" stroke-width="0.8" stroke-miterlimit="10"/>
<rect x="548.33" y="454.35" width="4.3" height="4.3" fill="#2ca02c" stroke="#2ca02c" stroke-width="0.8" stroke-miterlimit="10"/>
<rect x="559.3" y="469.95" width="4.3" height="4.3" fill="#2ca02c" stroke="#2ca02c" stroke-width="0.8" stroke-miterlimit="10"/>
<rect x="570.28" y="484.75" width="4.3" height="4.3" fill="#2ca02c" stroke="#2ca02c" stroke-width="0.8" stroke-miterlimit="10"/>
<rect x="581.26" y="491.55" width="4.3" height="4.3" fill="#2ca02c" stroke="#2ca02c" stroke-width="0.8" stroke-miterlimit="10"/>
<rect x="592.24" y="500.35" width="4.3" height="4.3" fill="#2ca02c" stroke="#2ca02c" stroke-width="0.8" stroke-miterlimit="10"/>
<rect x="603.21" y="502.35" width="4.3" height="4.3" fill="#2ca02c" stroke="#2ca02c" stroke-width="0.8" stroke-miterlimit="10"/>
<rect x="614.19" y="506.85" width="4.3" height="4.3" fill="#2ca02c" stroke="#2ca02c" stroke-width="0.8" stroke-miterlimit="10"/>
<rect x="625.17" y="514.55" width="4.3" height="4.3" fill="#2ca02c" stroke="#2ca02c" stroke-width="0.8" stroke-miterlimit="10"/>
<rect x="636.15" y="520.15" width="4.3" height="4.3" fill="#2ca02c" stroke="#2ca02c" stroke-width="0.8" stroke-miterlimit="10"/>
<rect x="647.12" y="523.85" width="4.3" height="4.3" fill="#2ca02c" stroke="#2ca02c" stroke-width="0.8" stroke-miterlimit="10"/>
<rect x="658.1" y="524.45" width="4.3" height="4.3" fill="#2ca02c" stroke="#2ca02c" stroke-width="0.8" stroke-miterlimit="10"/>
<rect x="669.08" y="524.75" width="4.3" height="4.3" fill="#2ca02c" stroke="#2ca02c" stroke-width="0.8" stroke-miterlimit="10"/>
<rect x="394.6" y="321.3" width="289.8" height="216" fill="none" stroke="#333" stroke-width="1.15"/>
<line x1="418.75" y1="537.3" x2="418.75" y2="539.8" stroke="#333" stroke-width="1.15"/>
<text x="418.75" y="550.2" text-anchor="middle" textLength="6.62" lengthAdjust="spacingAndGlyphs" font-size="10.9">5</text>
<line x1="473.64" y1="537.3" x2="473.64" y2="539.8" stroke="#333" stroke-width="1.15"/>
<text x="473.64" y="550.2" text-anchor="middle" textLength="13.23" lengthAdjust="spacingAndGlyphs" font-size="10.9">10</text>
<line x1="528.52" y1="537.3" x2="528.52" y2="539.8" stroke="#333" stroke-width="1.15"/>
<text x="528.52" y="550.2" text-anchor="middle" textLength="13.23" lengthAdjust="spacingAndGlyphs" font-size="10.9">15</text>
<line x1="583.41" y1="537.3" x2="583.41" y2="539.8" stroke="#333" stroke-width="1.15"/>
<text x="583.41" y="550.2" text-anchor="middle" textLength="13.23" lengthAdjust="spacingAndGlyphs" font-size="10.9">20</text>
<line x1="638.3" y1="537.3" x2="638.3" y2="539.8" stroke="#333" stroke-width="1.15"/>
<text x="638.3" y="550.2" text-anchor="middle" textLength="13.23" lengthAdjust="spacingAndGlyphs" font-size="10.9">25</text>
<line x1="392.1" y1="527.47" x2="394.6" y2="527.47" stroke="#333" stroke-width="1.15"/>
<text x="390.2" y="532.17" text-anchor="end" textLength="16.54" lengthAdjust="spacingAndGlyphs" font-size="10.9">0.0</text>
<line x1="392.1" y1="483.51" x2="394.6" y2="483.51" stroke="#333" stroke-width="1.15"/>
<text x="390.2" y="488.21" text-anchor="end" textLength="16.54" lengthAdjust="spacingAndGlyphs" font-size="10.9">0.2</text>
<line x1="392.1" y1="439.55" x2="394.6" y2="439.55" stroke="#333" stroke-width="1.15"/>
<text x="390.2" y="444.25" text-anchor="end" textLength="16.54" lengthAdjust="spacingAndGlyphs" font-size="10.9">0.4</text>
<line x1="392.1" y1="395.59" x2="394.6" y2="395.59" stroke="#333" stroke-width="1.15"/>
<text x="390.2" y="400.29" text-anchor="end" textLength="16.54" lengthAdjust="spacingAndGlyphs" font-size="10.9">0.6</text>
<line x1="392.1" y1="351.63" x2="394.6" y2="351.63" stroke="#333" stroke-width="1.15"/>
<text x="390.2" y="356.33" text-anchor="end" textLength="16.54" lengthAdjust="spacingAndGlyphs" font-size="10.9">0.8</text>
<text x="539.5" y="317.5" text-anchor="middle" textLength="209.12" lengthAdjust="spacingAndGlyphs" font-size="10.9">Experiment 3. Robustness and diversity.</text>
<text x="539.5" y="562.6" text-anchor="middle" textLength="91.52" lengthAdjust="spacingAndGlyphs" font-size="10.9">distance from WT</text>
<text transform="translate(369.6 429.3) rotate(-90)" text-anchor="middle" font-size="10.9" textLength="91.39" lengthAdjust="spacingAndGlyphs">Pearson / fraction</text>
<rect x="547.8" y="326.6" width="131.9" height="33" rx="2" ry="2" fill="#fff" fill-opacity="0.8" stroke="#cccccc" stroke-width="0.8"/>
<line x1="551.7" y1="334.9" x2="573.6" y2="334.9" stroke="#ff7f0e" stroke-width="1.4"/>
<path d="M560.45 332.75L564.75 332.75L562.6 337.05Z" fill="#ff7f0e" stroke="#ff7f0e" stroke-width="0.8" stroke-miterlimit="10"/>
<text x="581.4" y="338.6" textLength="94.18" lengthAdjust="spacingAndGlyphs" font-size="10.9">biophysical model</text>
<line x1="551.7" y1="350" x2="573.6" y2="350" stroke="#2ca02c" stroke-width="1.4"/>
<rect x="560.45" y="347.85" width="4.3" height="4.3" fill="#2ca02c" stroke="#2ca02c" stroke-width="0.8" stroke-miterlimit="10"/>
<text x="581.4" y="353.7" textLength="74.56" lengthAdjust="spacingAndGlyphs" font-size="10.9">viable fraction</text>
<text x="522.8" y="595.3" text-anchor="middle" font-size="18.5" style='font-family:Liberation Serif, serif;stroke-width:0.1px'>(d)</text>
</svg>
</body></html>
